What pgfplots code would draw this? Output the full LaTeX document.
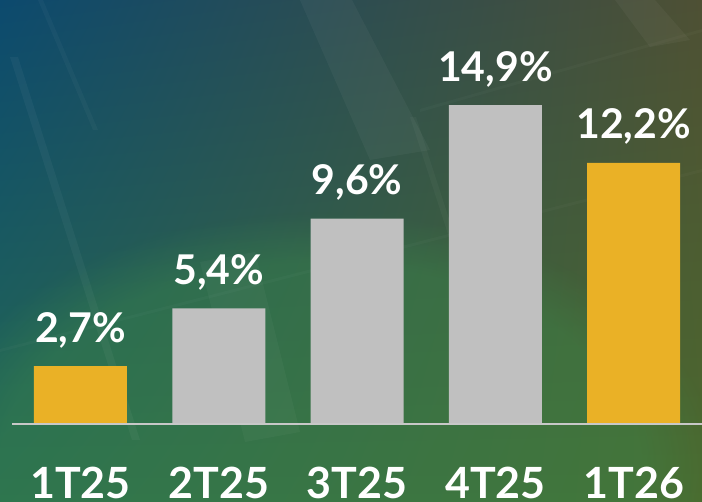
\documentclass[border=0pt]{standalone}
\usepackage{fontspec}
\setmainfont{Lato}
\usepackage{pgfplots}
\pgfplotsset{compat=1.18}
\usetikzlibrary{shadings,fadings}

\definecolor{barYellow}{HTML}{EAB126}
\definecolor{barGray}{HTML}{C0C0C0}
\definecolor{bgTL}{HTML}{0C4A6E}
\definecolor{bgTR}{HTML}{4E5034}
\definecolor{bgBL}{HTML}{276A52}
\definecolor{bgBR}{HTML}{4B6A2E}
\definecolor{bgGlow}{HTML}{3C8A4A}
\definecolor{baseLine}{HTML}{C8C8C8}

\begin{document}
\begin{tikzpicture}
% background
\shade[upper left=bgTL, upper right=bgTR, lower left=bgBL, lower right=bgBR]
  (0,0) rectangle (702pt,502pt);
\begin{scope}
\clip (0,0) rectangle (702pt,502pt);
\fill[bgGlow, opacity=0.38, path fading=circle with fuzzy edge 20 percent]
  (320pt,30pt) ellipse [x radius=400pt, y radius=260pt];
\fill[white, opacity=0.04] (10pt,445pt) -- (18pt,445pt) -- (140pt,62pt) -- (132pt,62pt) -- cycle;
\fill[white, opacity=0.03] (38pt,502pt) -- (43pt,502pt) -- (98pt,372pt) -- (93pt,372pt) -- cycle;
\fill[white, opacity=0.04] (300pt,502pt) -- (352pt,502pt) -- (430pt,352pt) -- (370pt,342pt) -- cycle;
\fill[white, opacity=0.03] (200pt,240pt) -- (255pt,250pt) -- (300pt,70pt) -- (245pt,60pt) -- cycle;
\fill[white, opacity=0.03] (410pt,385pt) -- (416pt,385pt) -- (476pt,200pt) -- (470pt,200pt) -- cycle;
\fill[white, opacity=0.04] (615pt,502pt) -- (655pt,502pt) -- (690pt,462pt) -- (650pt,455pt) -- cycle;
\fill[white, opacity=0.025] (420pt,390pt) -- (702pt,470pt) -- (702pt,473pt) -- (420pt,393pt) -- cycle;
\fill[white, opacity=0.025] (0pt,150pt) -- (702pt,330pt) -- (702pt,333pt) -- (0pt,153pt) -- cycle;
\end{scope}

\begin{axis}[
    at={(0,0)}, anchor=south west,
    scale only axis,
    width=702pt, height=502pt,
    xmin=-0.582, xmax=4.494,
    ymin=-3.645, ymax=19.81,
    axis line style={draw=none},
    tick style={draw=none},
    ytick=\empty,
    xtick={0,1,2,3,4},
    xticklabels={1T25,2T25,3T25,4T25,1T26},
    xticklabel style={anchor=base, yshift=8pt, inner sep=0pt, text=white,
        font=\fontsize{43}{43}\selectfont\bfseries},
    /pgf/number format/assume math mode=true,
    ybar, bar width=93pt, bar shift=0pt,
    nodes near coords={\pgfmathprintnumber[use comma,fixed,fixed zerofill,precision=1]{\pgfplotspointmeta}\%},
    every node near coord/.append style={anchor=base, yshift=24pt, inner sep=0pt, text=white,
        font=\fontsize{41}{41}\selectfont\bfseries},
]
\addplot[draw=none, fill=barYellow] coordinates {(0,2.7) (4,12.2)};
\addplot[draw=none, fill=barGray] coordinates {(1,5.4) (2,9.6) (3,14.9)};
\end{axis}

\draw[baseLine, line width=2pt] (12pt,78pt) -- (702pt,78pt);

\pgfresetboundingbox
\useasboundingbox (0,0) rectangle (702pt,502pt);
\end{tikzpicture}
\end{document}
